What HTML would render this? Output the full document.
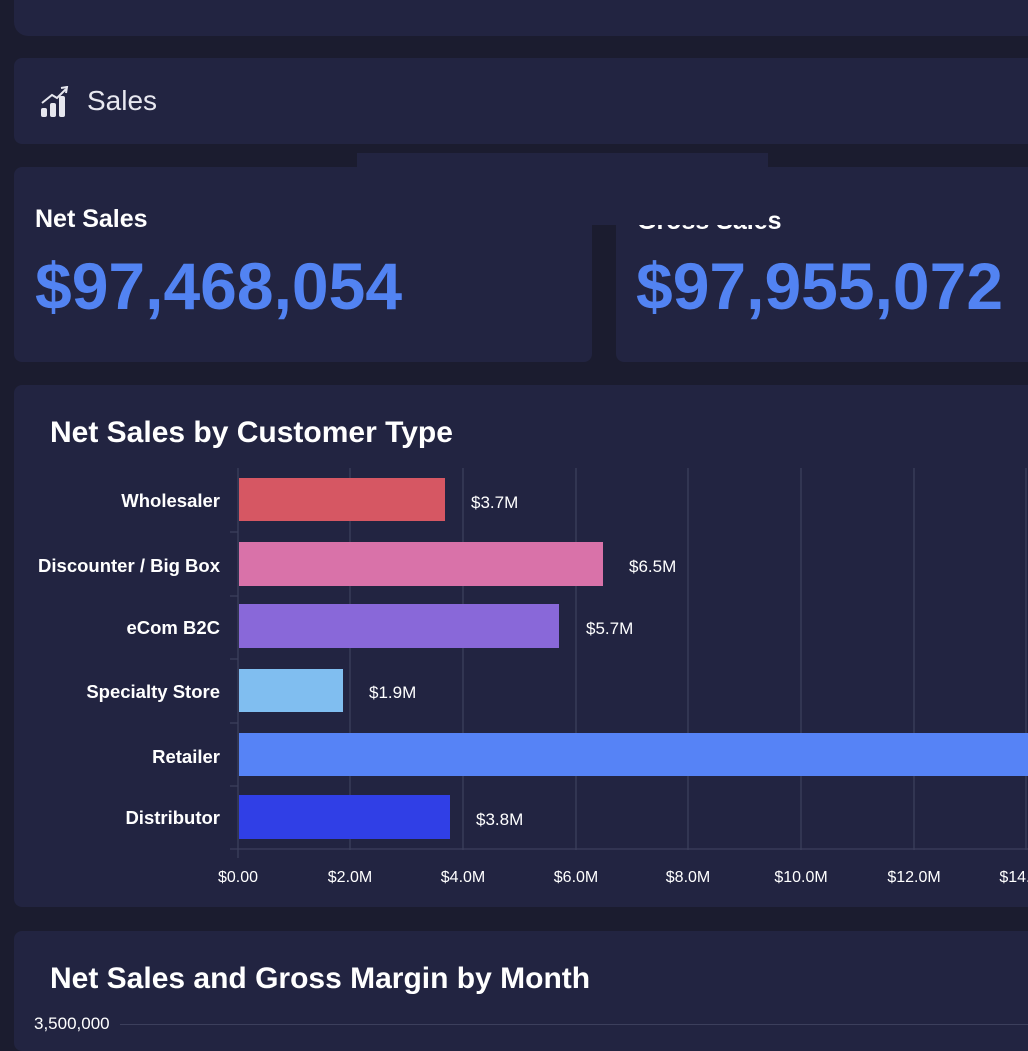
<!DOCTYPE html>
<html><head><meta charset="utf-8"><style>
html,body{margin:0;padding:0;width:1028px;height:1028px;overflow:hidden;background:#1b1c2f;font-family:"Liberation Sans",sans-serif;}
.c{position:absolute;background:#222441;}
.t{position:absolute;color:#fff;white-space:nowrap;}
.big{position:absolute;color:#5283f2;font-weight:bold;font-size:66px;white-space:nowrap;}
</style></head><body>
<div class="c" style="left:14px;top:-20px;width:1030px;height:56px;border-radius:14px;"></div>
<div class="c" style="left:14px;top:58px;width:1030px;height:86px;border-radius:8px;"></div>
<svg style="position:absolute;left:40px;top:86px" width="30" height="32" viewBox="0 0 30 32">
<rect x="1" y="22" width="6" height="9" rx="2" fill="#e6e6ee"/><rect x="10" y="17" width="6" height="14" rx="2" fill="#e6e6ee"/><rect x="19" y="10" width="6" height="21" rx="2" fill="#e6e6ee"/>
<path d="M2 17 L12 9 L17 12 L26 3" stroke="#e6e6ee" stroke-width="2" fill="none"/><path d="M21 2 L27 1 L26 7" stroke="#e6e6ee" stroke-width="2" fill="none"/></svg>
<div class="t" style="left:87px;top:85px;font-size:28px;color:#e8e8f0;">Sales</div>
<div class="c" style="left:14px;top:167px;width:578px;height:195px;border-radius:8px;"></div>
<div class="c" style="left:616px;top:167px;width:430px;height:195px;border-radius:8px;"></div>
<div class="t" style="left:35px;top:205px;font-size:25px;font-weight:bold;">Net Sales</div>
<div class="t" style="left:637px;top:207px;font-size:25px;font-weight:bold;">Gross Sales</div>
<div class="c" style="left:357px;top:153px;width:411px;height:72px;"></div>
<div class="big" style="left:35px;top:248px;">$97,468,054</div>
<div class="big" style="left:636px;top:248px;">$97,955,072</div>
<div class="c" style="left:14px;top:385px;width:1030px;height:522px;border-radius:8px;"></div>
<div class="t" style="left:50px;top:416px;font-size:30px;font-weight:bold;">Net Sales by Customer Type</div>
<svg style="position:absolute;left:0;top:0" width="1028" height="1028">
<g stroke="#3c3f5c" stroke-width="1.3">
<line x1="350" y1="468" x2="350" y2="850"/><line x1="463" y1="468" x2="463" y2="850"/><line x1="576" y1="468" x2="576" y2="850"/><line x1="688" y1="468" x2="688" y2="850"/><line x1="801" y1="468" x2="801" y2="850"/><line x1="914" y1="468" x2="914" y2="850"/><line x1="1026" y1="468" x2="1026" y2="850"/>
<line x1="238" y1="468" x2="238" y2="858"/><line x1="230" y1="849" x2="1028" y2="849"/>
<line x1="230" y1="532" x2="238" y2="532"/><line x1="230" y1="596" x2="238" y2="596"/><line x1="230" y1="659" x2="238" y2="659"/><line x1="230" y1="723" x2="238" y2="723"/><line x1="230" y1="786" x2="238" y2="786"/>
</g>
<rect x="239" y="478" width="206" height="43" fill="#d65763"/>
<rect x="239" y="542" width="364" height="44" fill="#d972a9"/>
<rect x="239" y="604" width="320" height="44" fill="#8968d9"/>
<rect x="239" y="669" width="104" height="43" fill="#80bef0"/>
<rect x="239" y="733" width="795" height="43" fill="#5683f6"/>
<rect x="239" y="795" width="211" height="44" fill="#303fe6"/>
<g fill="#fff" font-family="Liberation Sans" font-size="18.5" font-weight="bold" text-anchor="end">
<text x="220" y="507">Wholesaler</text><text x="220" y="572">Discounter / Big Box</text><text x="220" y="634">eCom B2C</text><text x="220" y="698">Specialty Store</text><text x="220" y="763">Retailer</text><text x="220" y="824">Distributor</text>
</g>
<g fill="#fff" font-family="Liberation Sans" font-size="17">
<text x="471" y="508">$3.7M</text><text x="629" y="572">$6.5M</text><text x="586" y="634">$5.7M</text><text x="369" y="698">$1.9M</text><text x="476" y="825">$3.8M</text>
</g>
<g fill="#fff" font-family="Liberation Sans" font-size="16" text-anchor="middle">
<text x="238" y="882">$0.00</text><text x="350" y="882">$2.0M</text><text x="463" y="882">$4.0M</text><text x="576" y="882">$6.0M</text><text x="688" y="882">$8.0M</text><text x="801" y="882">$10.0M</text><text x="914" y="882">$12.0M</text><text x="1026" y="882">$14.0M</text>
</g>
</svg>
<div class="c" style="left:14px;top:931px;width:1030px;height:120px;border-radius:8px;"></div>
<div class="t" style="left:50px;top:962px;font-size:30px;font-weight:bold;">Net Sales and Gross Margin by Month</div>
<div class="t" style="left:34px;top:1014px;font-size:17px;">3,500,000</div>
<div style="position:absolute;left:120px;top:1024px;width:908px;height:1px;background:#3c3f5c"></div>
</body></html>
